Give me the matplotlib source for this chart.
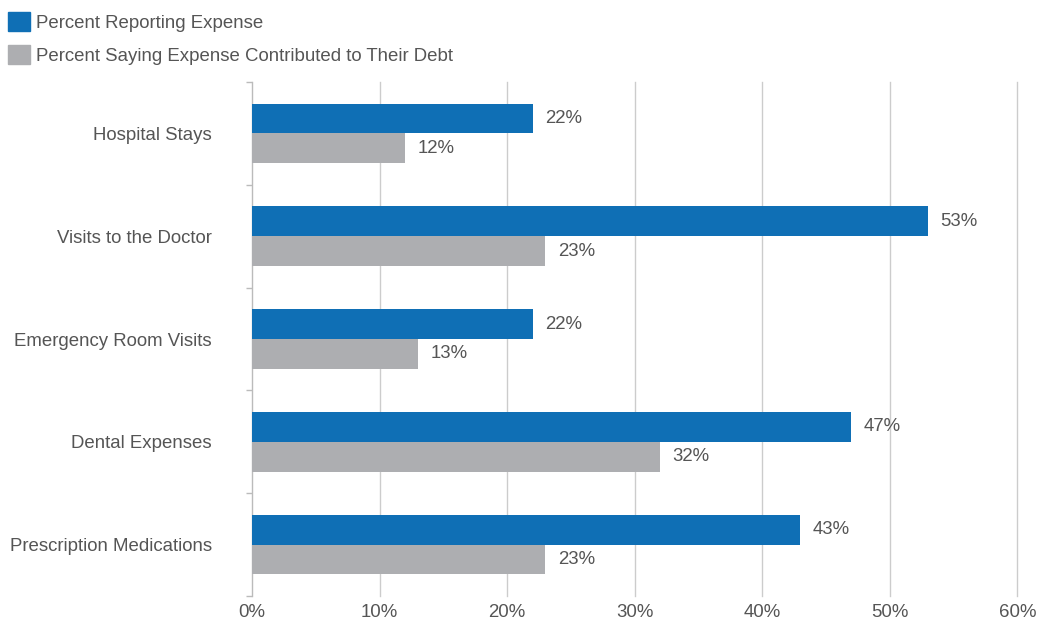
import numpy as np
import matplotlib.pyplot as plt
from matplotlib.patches import Patch

plt.rcParams['font.family'] = ['Liberation Sans', 'DejaVu Sans']

categories = ['Hospital Stays', 'Visits to the Doctor', 'Emergency Room Visits',
              'Dental Expenses', 'Prescription Medications']
reporting = [22, 53, 22, 47, 43]
debt = [12, 23, 13, 32, 23]
series_names = ['Percent Reporting Expense',
                'Percent Saying Expense Contributed to Their Debt']
x_ticks = [0, 10, 20, 30, 40, 50, 60]

blue = '#0f6fb5'
grey = '#adaeb1'
text_col = '#555555'
fs = 13.4

fig = plt.figure(figsize=(10.37, 6.23), dpi=100)
ax = fig.add_axes([0.243, 0.0433, 0.738, 0.825])

y = np.arange(len(categories))
h = 0.29
ax.barh(y - h / 2, reporting, height=h, color=blue, zorder=3)
ax.barh(y + h / 2, debt, height=h, color=grey, zorder=3)

for yi, v in zip(y, reporting):
    ax.annotate(f'{v}%', (v, yi - h / 2), xytext=(9, 0), textcoords='offset points',
                va='center', ha='left', fontsize=fs, color=text_col)
for yi, v in zip(y, debt):
    ax.annotate(f'{v}%', (v, yi + h / 2), xytext=(9, 0), textcoords='offset points',
                va='center', ha='left', fontsize=fs, color=text_col)

ax.set_xlim(0, 60)
ax.set_ylim(len(categories) - 0.5, -0.5)
ax.set_xticks(x_ticks)
ax.set_xticklabels([f'{t}%' for t in x_ticks])
ax.set_yticks(y)
ax.set_yticklabels(categories)
ax.set_yticks(np.arange(-0.5, len(categories)), minor=True)
ax.tick_params(axis='y', which='major', length=0, pad=29, labelsize=fs, labelcolor=text_col)
ax.tick_params(axis='y', which='minor', length=4, color='#bbbbbb', width=1)
ax.tick_params(axis='x', length=0, pad=6, labelsize=fs, labelcolor=text_col)

ax.grid(axis='x', color='#cccccc', linewidth=1, zorder=0)
ax.grid(axis='y', visible=False)
for line in ax.get_xgridlines():
    line.set_clip_on(False)
for s in ['top', 'right', 'bottom']:
    ax.spines[s].set_visible(False)
ax.spines['left'].set_color('#bbbbbb')

handles = [Patch(color=blue), Patch(color=grey)]
fig.legend(handles, series_names, loc='upper left', bbox_to_anchor=(-0.007, 1.004),
           frameon=False, fontsize=fs, labelcolor=text_col, handlelength=1.2,
           handleheight=1.2, handletextpad=0.3, labelspacing=0.68, borderpad=0.3)

fig.savefig('out.png', dpi=100)
